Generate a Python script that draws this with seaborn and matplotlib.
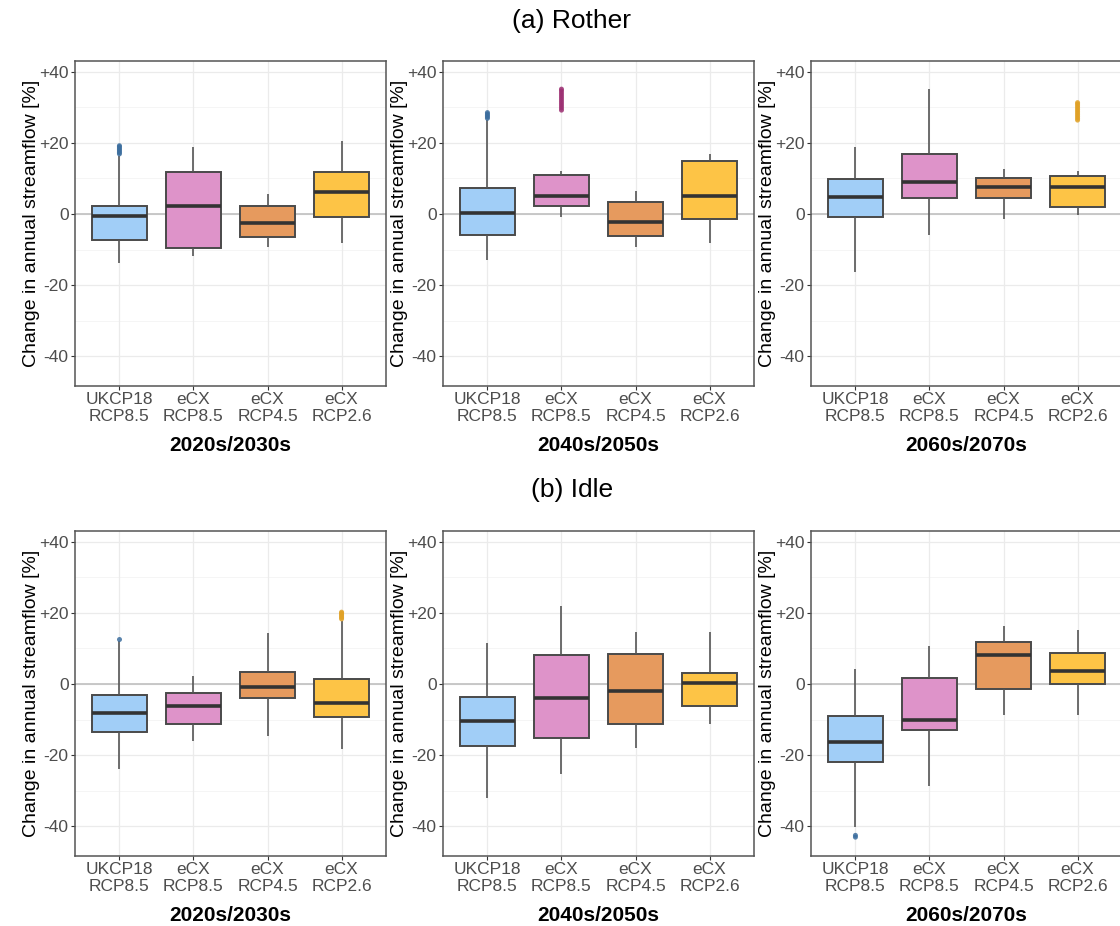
import numpy as np
import pandas as pd
import matplotlib
matplotlib.use("Agg")
import matplotlib.pyplot as plt
import seaborn as sns
from matplotlib.ticker import FixedLocator

# ---------------- data ----------------
scenarios = ["UKCP18\nRCP8.5", "eCX\nRCP8.5", "eCX\nRCP4.5", "eCX\nRCP2.6"]
periods = ["2020s/2030s", "2040s/2050s", "2060s/2070s"]
catchments = ["(a) Rother", "(b) Idle"]
ytick_values = [-40, -20, 0, 20, 40]
ytick_labels = ["-40", "-20", "0", "+20", "+40"]

# five-number summaries per scenario: [lower whisker, Q1, median, Q3, upper whisker]
rother_2020 = [[-13.7, -7.2, -0.5, 2.3, 16.4], [-11.7, -9.5, 2.2, 11.8, 18.8],
               [-9.3, -6.5, -2.6, 2.4, 5.7], [-8.1, -0.8, 6.2, 11.8, 20.4]]
rother_2040 = [[-12.8, -6.0, 0.3, 7.3, 26.4], [-0.8, 2.3, 5.0, 11.1, 12.2],
               [-9.3, -6.3, -2.1, 3.3, 6.6], [-8.1, -1.4, 5.0, 14.8, 16.8]]
rother_2060 = [[-16.4, -0.7, 4.7, 9.8, 18.8], [-5.9, 4.5, 8.9, 16.8, 35.0],
               [-1.3, 4.5, 7.5, 10.2, 12.7], [-0.4, 2.1, 7.6, 10.8, 12.2]]
idle_2020 = [[-23.8, -13.4, -8.1, -3.2, 12.0], [-15.9, -11.1, -6.3, -2.4, 2.2],
             [-14.5, -3.8, -0.8, 3.5, 14.4], [-18.2, -9.2, -5.4, 1.4, 17.8]]
idle_2040 = [[-32.0, -17.5, -10.3, -3.7, 11.4], [-25.3, -15.1, -4.0, 8.2, 21.9],
             [-17.9, -11.1, -2.0, 8.4, 14.6], [-11.1, -6.2, 0.4, 3.1, 14.6]]
idle_2060 = [[-40.1, -22.0, -16.3, -9.1, 4.2], [-28.5, -12.8, -10.1, 1.6, 10.6],
             [-8.6, -1.3, 8.2, 11.9, 16.2], [-8.8, 0.0, 3.8, 8.8, 15.3]]

# outliers per scenario
rother_2020_out = [[16.9, 17.3, 17.7, 18.1, 18.5, 18.9, 19.2], [], [], []]
rother_2040_out = [[26.9, 27.3, 27.7, 28.1, 28.5], [29.2, 29.8, 30.4, 31.0, 31.6, 32.2, 32.8, 33.4, 34.0, 34.6, 35.1], [], []]
rother_2060_out = [[], [], [], [26.4, 26.9, 27.4, 27.9, 28.4, 28.9, 29.4, 29.9, 30.4, 30.9, 31.3]]
idle_2020_out = [[12.7], [], [], [18.3, 18.7, 19.1, 19.5, 19.9, 20.2]]
idle_2040_out = [[], [], [], []]
idle_2060_out = [[-42.5, -43.0], [], [], []]

fills = ["#A1CEF7", "#DE93C9", "#E69A5E", "#FDC446"]
outlier_colors = ["#3C6E9E", "#9C2F72", "#D98A2B", "#E0A126"]

summaries = [[rother_2020, rother_2040, rother_2060], [idle_2020, idle_2040, idle_2060]]
outliers = [[rother_2020_out, rother_2040_out, rother_2060_out],
            [idle_2020_out, idle_2040_out, idle_2060_out]]

# ---------------- figure ----------------
sns.set_theme(style="white")
plt.rcParams["font.family"] = ["Liberation Sans", "DejaVu Sans"]

W, H = 1120, 926
fig = plt.figure(figsize=(W / 100, H / 100), dpi=100)

col_left = [75, 443, 811]
panel_w = 311
row_top = [61, 531]
panel_h = 325
title_y = [21, 490]

pal = dict(zip(scenarios, fills))
opal = dict(zip(scenarios, outlier_colors))

for r in range(2):
    fig.text(572 / W, 1 - title_y[r] / H, catchments[r], ha="center", va="center",
             fontsize=19, color="black")
    for c in range(3):
        ax = fig.add_axes([col_left[c] / W, 1 - (row_top[r] + panel_h) / H,
                           panel_w / W, panel_h / H])
        rows = []
        for s, five in zip(scenarios, summaries[r][c]):
            for v in five:
                rows.append((s, v))
        df = pd.DataFrame(rows, columns=["scenario", "value"])
        df["scenario"] = pd.Categorical(df["scenario"], categories=scenarios)

        # grid
        for yv in [-40, -20, 0, 20, 40]:
            ax.axhline(yv, color="#EBEBEB", lw=0.9, zorder=0)
        for yv in [-30, -10, 10, 30]:
            ax.axhline(yv, color="#F4F4F4", lw=0.6, zorder=0)
        for xv in range(4):
            ax.axvline(xv, color="#EBEBEB", lw=0.9, zorder=0)
        ax.axhline(0, color="#C4C4C4", lw=1.3, zorder=0.5)

        sns.boxplot(data=df, x="scenario", y="value", hue="scenario", order=scenarios,
                    hue_order=scenarios, palette=pal, saturation=1, whis=(0, 100), width=0.75,
                    showfliers=False, showcaps=False, linewidth=1.4, linecolor="#4A4A4A",
                    medianprops=dict(color="#333333", linewidth=2.6),
                    whiskerprops=dict(color="#555555", linewidth=1.2),
                    legend=False, ax=ax, zorder=2)

        orows = []
        for s, outs in zip(scenarios, outliers[r][c]):
            for v in outs:
                orows.append((s, v))
        if orows:
            odf = pd.DataFrame(orows, columns=["scenario", "value"])
            odf["scenario"] = pd.Categorical(odf["scenario"], categories=scenarios)
            sns.stripplot(data=odf, x="scenario", y="value", hue="scenario", order=scenarios,
                          hue_order=scenarios, palette=opal, jitter=False, size=3.6,
                          linewidth=0, legend=False, ax=ax, zorder=3, alpha=0.85)

        ax.set_xlim(-0.6, 3.6)
        ax.set_ylim(-48.3, 43.0)
        ax.yaxis.set_major_locator(FixedLocator(ytick_values))
        ax.set_yticklabels(ytick_labels)
        ax.set_xticks(range(4))
        ax.set_xticklabels(scenarios, linespacing=1.12)
        ax.tick_params(axis="both", labelsize=12.5, labelcolor="#4D4D4D", length=3,
                       width=0.8, color="#333333", direction="out", left=True, bottom=True,
                       pad=1.5)
        ax.set_ylabel("Change in annual streamflow [%]", fontsize=14, color="black")
        ax.yaxis.set_label_coords(-35 / panel_w, 0.5)
        ax.set_xlabel(periods[c], fontsize=15, fontweight="bold", color="black", labelpad=9)
        for sp in ax.spines.values():
            sp.set_visible(True)
            sp.set_color("#555555")
            sp.set_linewidth(1.1)
        ax.grid(False)
        ax.set_facecolor("white")

fig.savefig("out.png", dpi=100)
